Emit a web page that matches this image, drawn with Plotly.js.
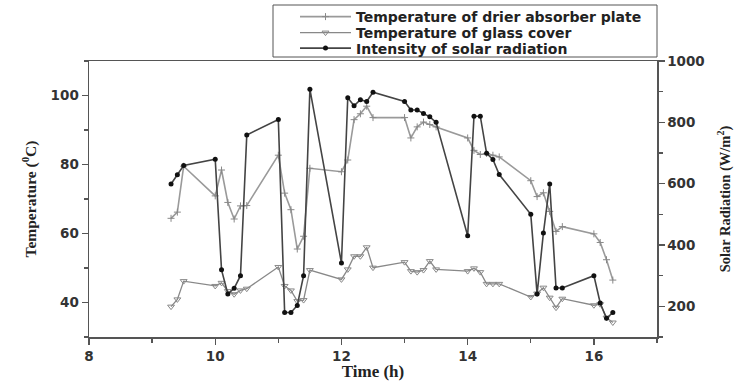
<!DOCTYPE html>
<html>
<head>
<meta charset="utf-8">
<script src="https://cdn.plot.ly/plotly-3.0.1.min.js"></script>
<style>html,body{margin:0;padding:0;background:#fff;}#chart{width:738px;height:381px;}</style>
</head>
<body>
<div id="chart"></div>
<script>
const time = [9.3, 9.4, 9.5, 10.0, 10.1, 10.2, 10.3, 10.4, 10.5,
  11.0, 11.1, 11.2, 11.3, 11.4, 11.5,
  12.0, 12.1, 12.2, 12.3, 12.4, 12.5,
  13.0, 13.1, 13.2, 13.3, 13.4, 13.5,
  14.0, 14.1, 14.2, 14.3, 14.4, 14.5,
  15.0, 15.1, 15.2, 15.3, 15.4, 15.5,
  16.0, 16.1, 16.2, 16.3];
const absorberTemp = [64.4, 66.2, 79.5, 70.9, 78.4, 69.0, 64.2, 68.0, 68.1,
  82.7, 71.7, 66.9, 55.5, 59.2, 78.9,
  77.9, 81.3, 93.0, 94.7, 96.9, 93.6,
  93.6, 87.7, 90.9, 92.3, 91.6, 90.9,
  87.7, 84.1, 82.9, 83.2, 82.7, 82.2,
  75.3, 70.7, 71.8, 66.4, 60.6, 62.0,
  59.9, 57.4, 52.4, 46.5];
const glassTemp = [38.8, 40.9, 46.2, 44.8, 45.7, 43.3, 42.4, 43.5, 44.0,
  50.3, 44.8, 43.5, 40.4, 40.7, 49.4,
  46.7, 49.6, 53.4, 53.4, 56.0, 50.1,
  51.7, 49.1, 48.8, 49.4, 52.0, 49.6,
  49.1, 49.9, 48.8, 45.4, 45.4, 45.4,
  41.6, 42.6, 44.3, 41.4, 38.5, 41.1,
  39.2, 39.5, 35.6, 34.2];
const solarRadiation = [599, 629, 659, 680, 319, 240, 259, 300, 759,
  809, 180, 180, 203, 300, 908,
  341, 880, 854, 874, 868, 898,
  868, 840, 840, 829, 818, 800,
  430, 820, 820, 699, 679, 630,
  500, 240, 439, 599, 260, 260,
  300, 211, 161, 180];
const seriesNames = ['Temperature of drier absorber plate', 'Temperature of glass cover', 'Intensity of solar radiation'];

const tickFont = {family: 'DejaVu Sans', size: 13.5, color: '#333', weight: 'bold'};
const leftTitleFont = {family: 'Liberation Serif', size: 15.5, color: '#222', weight: 'bold'};
const rightTitleFont = {family: 'Liberation Serif', size: 14.5, color: '#222', weight: 'bold'};
const xTitleFont = {family: 'Liberation Serif', size: 17, color: '#222', weight: 'bold'};
const legendFont = {family: 'DejaVu Sans', size: 14, color: '#222', weight: 'bold'};
const axisCommon = {
  showline: true, linecolor: '#555', linewidth: 1.5,
  ticks: 'outside', ticklen: 6, tickcolor: '#555', tickwidth: 1.3,
  showgrid: false, zeroline: false, tickfont: tickFont, automargin: false
};

const traces = [
  {x: time, y: absorberTemp, name: seriesNames[0], type: 'scatter', mode: 'lines+markers', legend: 'legend',
   line: {color: '#9a9a9a', width: 1.6},
   marker: {symbol: 'cross-thin', size: 5, line: {color: '#888', width: 1}}},
  {x: time, y: glassTemp, name: seriesNames[1], type: 'scatter', mode: 'lines+markers', legend: 'legend2',
   line: {color: '#888', width: 1.3},
   marker: {symbol: 'triangle-down-open', size: 6, color: '#888', line: {width: 1}}},
  {x: time, y: solarRadiation, name: seriesNames[2], type: 'scatter', mode: 'lines+markers', yaxis: 'y2', legend: 'legend3',
   line: {color: '#444', width: 1.6},
   marker: {symbol: 'circle', size: 5, color: '#111'}}
];

// plot area in pixels: x 89..657, y 61..337
const px2x = p => (p - 89) / 568;
const py2y = p => 1 + (61 - p) / 276;
function legendAt(py) {
  return {x: px2x(295), xanchor: 'left', y: py2y(py), yanchor: 'middle',
    borderwidth: 0, bgcolor: 'rgba(0,0,0,0)', font: legendFont, itemwidth: 51};
}

const layout = {
  width: 738, height: 381,
  margin: {l: 89, r: 81, t: 61, b: 44, autoexpand: false},
  paper_bgcolor: '#fff', plot_bgcolor: '#fff',
  showlegend: true,
  legend: legendAt(17),
  legend2: legendAt(33),
  legend3: legendAt(48.5),
  shapes: [{type: 'rect', xref: 'paper', yref: 'paper',
    x0: px2x(273), x1: px2x(657), y0: py2y(57), y1: py2y(5),
    line: {color: '#555', width: 1}, fillcolor: 'rgba(0,0,0,0)', layer: 'below'}],
  xaxis: Object.assign({}, axisCommon, {
    range: [8, 17], dtick: 2, tick0: 8, mirror: true,
    minor: {dtick: 1, ticklen: 4, tickcolor: '#555', ticks: 'outside'},
    title: {text: 'Time (h)', font: xTitleFont, standoff: 5}
  }),
  yaxis: Object.assign({}, axisCommon, {
    range: [30, 110], dtick: 20, tick0: 0,
    minor: {dtick: 10, ticklen: 4, tickcolor: '#555', ticks: 'outside'},
    title: {text: 'Temperature (<sup>0</sup>C)', font: leftTitleFont, standoff: 10}
  }),
  yaxis2: Object.assign({}, axisCommon, {
    overlaying: 'y', side: 'right',
    range: [100, 1000], dtick: 200, tick0: 0,
    minor: {dtick: 100, ticklen: 4, tickcolor: '#555', ticks: 'outside'},
    title: {text: 'Solar Radiation (W/m<sup>2</sup>)', font: rightTitleFont, standoff: 16}
  })
};

Plotly.newPlot('chart', traces, layout, {displayModeBar: false, staticPlot: true});
</script>
</body>
</html>
